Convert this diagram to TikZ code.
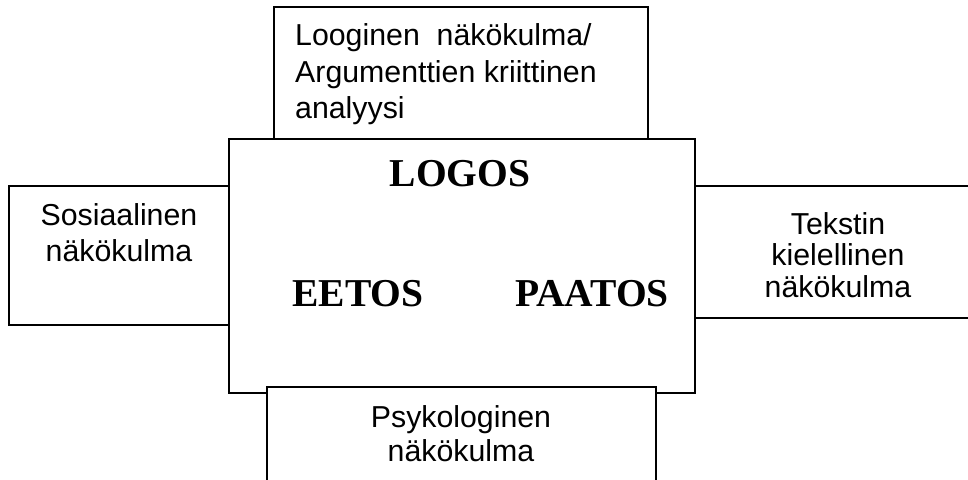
\documentclass[tikz,border=0pt]{standalone}
\usepackage{fontspec}
\setmainfont{Liberation Sans}
\newfontfamily\serifbold{Liberation Serif}[BoldFont={Liberation Serif Bold}]
\begin{document}
\begin{tikzpicture}[x=1pt,y=-1pt,
  box/.style={draw=black,line width=2pt,fill=white,rectangle,inner sep=0pt},
  lbl/.style={anchor=base,inner sep=0pt,font=\fontsize{30.3}{36}\selectfont},
  lbll/.style={anchor=base west,inner sep=0pt,font=\fontsize{30.3}{36}\selectfont},
  big/.style={anchor=base,inner sep=0pt,font=\serifbold\bfseries\fontsize{39.5}{44}\selectfont}]
\useasboundingbox (0,0) rectangle (968,479);
\clip (0,0) rectangle (968,479);
% boxes
\node[box,minimum width=466pt,minimum height=254pt] (center) at (462,266) {};
\node[box,minimum width=374pt,minimum height=132pt] (top) at (461,73) {};
\node[box,minimum width=220pt,minimum height=139pt] (left) at (119,255.5) {};
\node[box,minimum width=290pt,minimum height=132pt] (right) at (840,252) {};
\node[box,minimum width=389pt,minimum height=113pt] (bottom) at (461.5,443.5) {};
% top box text
\node[lbll] (t1) at (295,45) {Looginen\ \ näkökulma/};
\node[lbll] (t2) at (295,82) {Argumenttien kriittinen};
\node[lbll] (t3) at (295,118) {analyysi};
% left box text
\node[lbl] (l1) at (119,225) {Sosiaalinen};
\node[lbl] (l2) at (119,261) {näkökulma};
% right box text
\node[lbl] (r1) at (838,234) {Tekstin};
\node[lbl] (r2) at (838,265) {kielellinen};
\node[lbl] (r3) at (838,297) {näkökulma};
% bottom box text
\node[lbl] (b1) at (461,427) {Psykologinen};
\node[lbl] (b2) at (461,461) {näkökulma};
% central words
\node[big] (logos) at (460,186) {LOGOS};
\node[big] (eetos) at (358,306) {EETOS};
\node[big] (paatos) at (592,306) {PAATOS};
\end{tikzpicture}
\end{document}
